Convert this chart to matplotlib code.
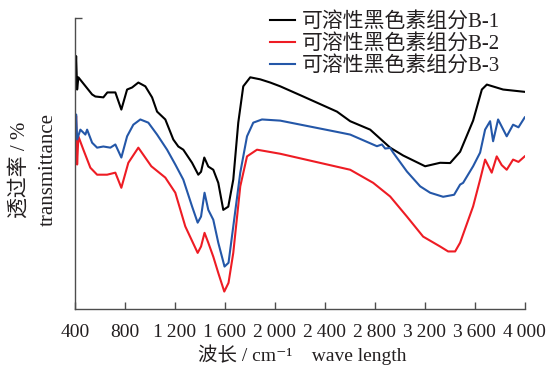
import matplotlib
matplotlib.use("Agg")
import matplotlib.pyplot as plt

# wavenumber (cm-1) and transmittance (arbitrary %)
wn_b1 = [403, 409, 417, 427, 537, 563, 627, 659, 723, 771, 817, 857, 907, 963,
         1017, 1057, 1123, 1187, 1227, 1267, 1337, 1387, 1409, 1435, 1467, 1507,
         1547, 1587, 1627, 1667, 1707, 1747, 1803, 1883, 1963, 2043, 2227, 2497,
         2603, 2763, 2923, 3027, 3203, 3323, 3403, 3483, 3587, 3657, 3697, 3827, 4000]
t_b1 = [80.0, 87.0, 75.5, 79.7, 73.8, 73.1, 72.8, 74.5, 74.5, 68.6, 75.5, 76.2, 77.9, 76.6,
        72.8, 67.9, 65.2, 58.3, 55.9, 54.8, 50.3, 46.2, 47.2, 52.1, 49.0, 47.9,
        43.4, 34.1, 35.2, 44.5, 64.1, 76.6, 79.7, 79.0, 77.9, 76.6, 73.1, 67.9,
        64.6, 61.7, 55.5, 52.8, 49.1, 50.3, 50.2, 54.1, 64.8, 75.5, 77.2, 75.5, 74.7]

wn_b2 = [403, 409, 417, 427, 467, 523, 577, 657, 723, 771, 827, 907, 1011, 1123,
         1203, 1283, 1382, 1409, 1437, 1467, 1507, 1547, 1595, 1629, 1667, 1723,
         1777, 1857, 1937, 2043, 2603, 2787, 2923, 3057, 3187, 3323, 3387, 3443,
         3483, 3587, 3643, 3683, 3736, 3776, 3816, 3856, 3907, 3950, 4000]
t_b2 = [60.0, 66.3, 49.7, 59.4, 54.8, 48.6, 46.2, 46.2, 46.9, 41.7, 50.3, 55.5, 49.1, 45.2,
        40.0, 28.4, 19.3, 21.5, 26.2, 22.8, 18.0, 12.4, 6.0, 9.0, 19.3, 42.2,
        52.5, 54.8, 54.2, 53.4, 47.9, 43.4, 38.7, 31.8, 24.9, 21.5, 19.8, 19.8,
        22.8, 35.3, 44.5, 51.4, 46.9, 52.5, 49.5, 47.9, 51.4, 50.6, 52.5]

wn_b3 = [403, 409, 417, 443, 483, 497, 537, 577, 627, 683, 723, 771, 817, 867, 923,
         987, 1057, 1137, 1203, 1267, 1337, 1382, 1409, 1437, 1467, 1507, 1547,
         1597, 1629, 1667, 1723, 1777, 1827, 1897, 2043, 2523, 2603, 2817, 2857,
         2883, 2923, 2947, 3057, 3163, 3243, 3347, 3435, 3483, 3507, 3587, 3643,
         3683, 3723, 3747, 3787, 3856, 3907, 3950, 4000]
t_b3 = [62.0, 66.9, 58.3, 61.7, 60.0, 61.7, 57.2, 55.5, 55.9, 55.5, 56.6, 52.1, 59.4, 63.4, 65.2,
        64.1, 60.0, 54.8, 49.7, 44.5, 35.3, 29.7, 31.8, 40.0, 34.1, 30.7, 22.8,
        14.6, 15.9, 28.4, 46.9, 59.4, 64.1, 65.2, 64.8, 60.7, 60.0, 56.0, 56.6,
        55.2, 55.4, 53.8, 47.3, 42.2, 40.0, 38.6, 39.3, 42.8, 43.4, 49.1, 53.8,
        61.7, 64.6, 57.7, 65.2, 59.4, 63.4, 62.5, 65.9]

labels = ["可溶性黑色素组分B-1", "可溶性黑色素组分B-2", "可溶性黑色素组分B-3"]
colors = ["#000000", "#ee1c24", "#2457a8"]

xticks = [400, 800, 1200, 1600, 2000, 2400, 2800, 3200, 3600, 4000]
xtick_labels = ["400", "800", "1\u2009200", "1\u2009600", "2\u2009000", "2\u2009400",
                "2\u2009800", "3\u2009200", "3\u2009600", "4\u2009000"]

plt.rcParams["font.family"] = ["Liberation Serif", "DejaVu Serif", "Noto Sans CJK SC"]
text_color = "#231f20"

fig = plt.figure(figsize=(5.49, 3.67), dpi=100)
ax = fig.add_axes([75 / 549, 1 - 309 / 367, 449.7 / 549, 290.7 / 367])

for wn, t, lab, col in zip([wn_b1, wn_b2, wn_b3], [t_b1, t_b2, t_b3], labels, colors):
    ax.plot(wn, t, color=col, lw=1.5, label=lab)

ax.set_xlim(400, 4000)
ax.set_ylim(0, 100)
ax.set_xticks(xticks)
ax.set_xticklabels(xtick_labels, fontsize=14, color=text_color)
ax.set_yticks([100])
ax.set_yticklabels([])
ax.tick_params(direction="in", length=5, width=1, color="#4d4d4d", pad=11)

for side in ["top", "right"]:
    ax.spines[side].set_visible(False)
for side in ["left", "bottom"]:
    ax.spines[side].set_color("#4d4d4d")
    ax.spines[side].set_linewidth(1)

leg = ax.legend(loc="upper left", bbox_to_anchor=(270 / 549, 1 - 12 / 367),
                bbox_transform=fig.transFigure, frameon=False, fontsize=15,
                handlelength=1.2, handletextpad=0.35, labelspacing=0.1,
                borderpad=0, borderaxespad=0)
for txt in leg.get_texts():
    txt.set_color(text_color)

fig.text(302 / 549, 1 - 355 / 367, "波长 / cm\u207b\u00b9    wave length", fontsize=14,
         color=text_color, ha="center", va="center")
fig.text(20 / 549, 1 - 170 / 367, "透过率 / %", fontsize=15, rotation=90,
         color=text_color, ha="center", va="center")
fig.text(48 / 549, 1 - 170 / 367, "transmittance", fontsize=15, rotation=90,
         color=text_color, ha="center", va="center")

fig.savefig("out.png", dpi=100)
